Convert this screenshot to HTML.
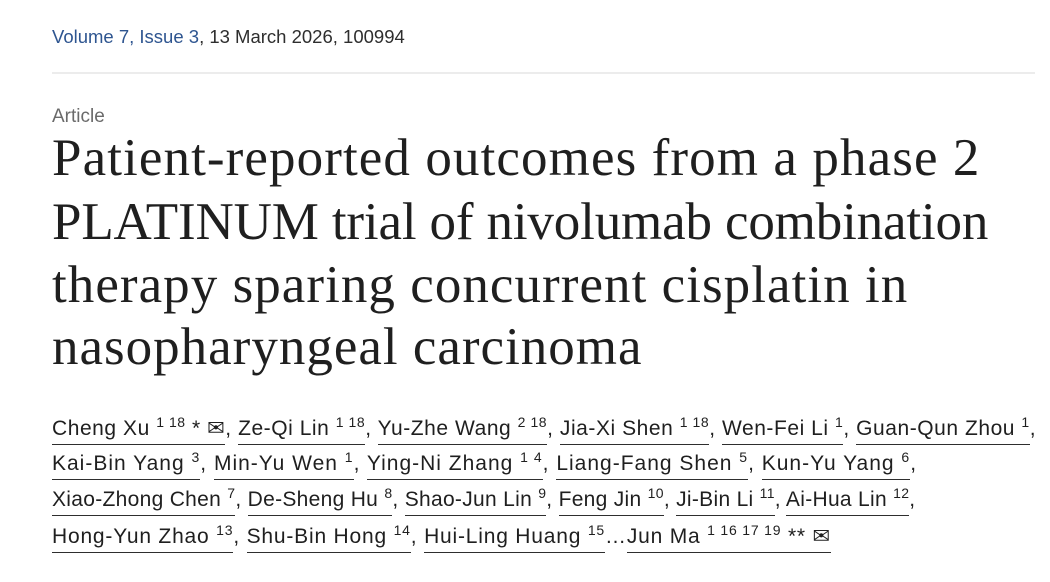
<!DOCTYPE html>
<html><head><meta charset="utf-8"><style>
body{margin:0;width:1050px;height:582px;background:#fff;overflow:hidden;font-family:"Liberation Sans",sans-serif;color:#1f1f1f;position:relative}
.vol{position:absolute;left:52px;top:26px;font-size:18.5px;color:#2e2e2e}
.vol a{color:#2e5590;text-decoration:none}
.rule{position:absolute;left:52px;top:72px;width:983px;height:2px;background:#ececec}
.art{position:absolute;left:52px;top:106px;font-size:19px;color:#6a6a6a}
.t{position:absolute;left:52px;font-family:"Liberation Serif",serif;font-size:53px;color:#1f1f1f;white-space:nowrap;letter-spacing:1.2px}
.a{position:absolute;left:52px;font-size:21px;white-space:nowrap;color:#1f1f1f;letter-spacing:0.3px}
.a span.n{border-bottom:1.5px solid #2e2e2e;padding-bottom:4px}
sup{font-size:14px;vertical-align:8px;line-height:0}
</style></head><body>
<div class="vol"><a>Volume 7, Issue 3</a>, 13 March 2026, 100994</div>
<div class="rule"></div>
<div class="art">Article</div>
<div class="t" style="top:128px;letter-spacing:1.1px">Patient-reported outcomes from a phase 2</div>
<div class="t" style="top:192px;letter-spacing:-0.15px">PLATINUM trial of nivolumab combination</div>
<div class="t" style="top:255px;letter-spacing:1.05px">therapy sparing concurrent cisplatin in</div>
<div class="t" style="top:317px;letter-spacing:1.0px">nasopharyngeal carcinoma</div>
<div class="a" style="top:416px;letter-spacing:0.55px"><span class="n">Cheng Xu <sup>1 18</sup> * ✉</span>, <span class="n">Ze-Qi Lin <sup>1 18</sup></span>, <span class="n">Yu-Zhe Wang <sup>2 18</sup></span>, <span class="n">Jia-Xi Shen <sup>1 18</sup></span>, <span class="n">Wen-Fei Li <sup>1</sup></span>, <span class="n">Guan-Qun Zhou <sup>1</sup></span>,</div>
<div class="a" style="top:452px;letter-spacing:1.0px"><span class="n">Kai-Bin Yang <sup>3</sup></span>, <span class="n">Min-Yu Wen <sup>1</sup></span>, <span class="n">Ying-Ni Zhang <sup>1 4</sup></span>, <span class="n">Liang-Fang Shen <sup>5</sup></span>, <span class="n">Kun-Yu Yang <sup>6</sup></span>,</div>
<div class="a" style="top:488px"><span class="n">Xiao-Zhong Chen <sup>7</sup></span>, <span class="n">De-Sheng Hu <sup>8</sup></span>, <span class="n">Shao-Jun Lin <sup>9</sup></span>, <span class="n">Feng Jin <sup>10</sup></span>, <span class="n">Ji-Bin Li <sup>11</sup></span>, <span class="n">Ai-Hua Lin <sup>12</sup></span>,</div>
<div class="a" style="top:524px;letter-spacing:0.8px"><span class="n">Hong-Yun Zhao <sup>13</sup></span>, <span class="n">Shu-Bin Hong <sup>14</sup></span>, <span class="n">Hui-Ling Huang <sup>15</sup></span>…<span class="n">Jun Ma <sup>1 16 17 19</sup> ** ✉</span></div>
</body></html>
